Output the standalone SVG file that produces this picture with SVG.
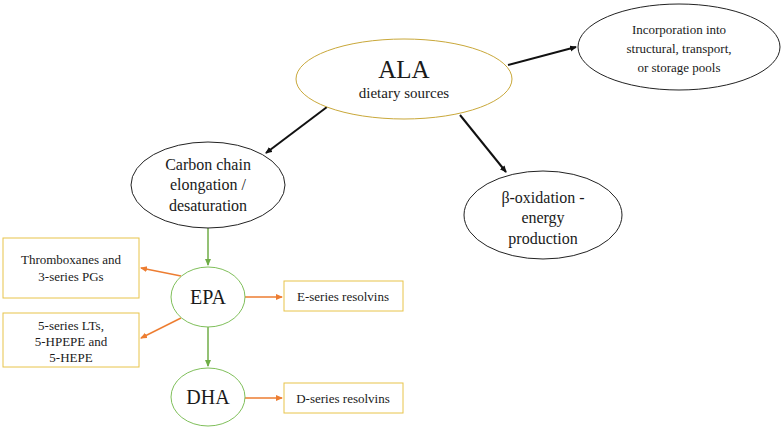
<svg xmlns="http://www.w3.org/2000/svg" width="783" height="432" viewBox="0 0 783 432">
<defs>
<style>
text{font-family:"Liberation Serif",serif;fill:#1a1a1a;text-anchor:middle}
.n{fill:#fff;stroke:#222;stroke-width:1}
.g{fill:#fff;stroke:#7fbf5a;stroke-width:1}
.b{fill:#fff;stroke:#e8c44a;stroke-width:1}
.t{font-size:16px}
.s{font-size:13px}
.k{stroke:#111;stroke-width:2;fill:none;marker-end:url(#ak)}
.gr{stroke:#70ad47;stroke-width:1.5;fill:none;marker-end:url(#ag)}
.o{stroke:#ed7d31;stroke-width:1.5;fill:none;marker-end:url(#ao)}
</style>
<marker id="ak" markerWidth="8" markerHeight="8" refX="6" refY="3" orient="auto" markerUnits="userSpaceOnUse"><path d="M0,0L7,3L0,6z" fill="#111"/></marker>
<marker id="ag" markerWidth="8" markerHeight="8" refX="6" refY="3" orient="auto" markerUnits="userSpaceOnUse"><path d="M0,0L7,3L0,6z" fill="#70ad47"/></marker>
<marker id="ao" markerWidth="8" markerHeight="8" refX="6" refY="3" orient="auto" markerUnits="userSpaceOnUse"><path d="M0,0L7,3L0,6z" fill="#ed7d31"/></marker>
</defs>
<rect width="783" height="432" fill="#fff"/>
<g id="connectors">
<line class="k" x1="508" y1="65" x2="576" y2="47"/>
<line class="k" x1="460" y1="115" x2="506" y2="172"/>
<line class="k" x1="327" y1="107" x2="266" y2="153"/>
<line class="gr" x1="208" y1="228" x2="208" y2="265"/>
<line class="gr" x1="208" y1="327" x2="208" y2="366"/>
<line class="o" x1="181" y1="276" x2="141" y2="268"/>
<line class="o" x1="181" y1="318" x2="141" y2="338"/>
<line class="o" x1="245" y1="297" x2="282" y2="297"/>
<line class="o" x1="245" y1="398" x2="282" y2="398"/>
</g>
<g id="ala"><ellipse cx="404" cy="79" rx="108" ry="40" fill="#fff" stroke="#c9a83a"/>
<text x="404" y="78" font-size="25">ALA</text><text x="404" y="98" font-size="15">dietary sources</text></g>
<g id="incorporation"><ellipse class="n" cx="679" cy="47" rx="101" ry="43"/>
<text class="s" x="679" y="34" font-size="14">Incorporation into</text><text class="s" x="679" y="53">structural, transport,</text><text class="s" x="679" y="72">or storage pools</text></g>
<g id="beta"><ellipse class="n" cx="543" cy="215" rx="79" ry="44"/>
<text class="t" x="543" y="203">β-oxidation -</text><text class="t" x="543" y="223">energy</text><text class="t" x="543" y="244">production</text></g>
<g id="carbon"><ellipse class="n" cx="208" cy="185" rx="77" ry="43"/>
<text class="t" x="208" y="170">Carbon chain</text><text class="t" x="208" y="190">elongation /</text><text class="t" x="208" y="211">desaturation</text></g>
<g id="epa"><ellipse class="g" cx="208" cy="297" rx="37" ry="30"/><text x="208" y="304" font-size="20">EPA</text></g>
<g id="dha"><ellipse class="g" cx="208" cy="397" rx="37" ry="29"/><text x="208" y="404" font-size="20">DHA</text></g>
<g id="thromboxanes"><rect class="b" x="3" y="238" width="136" height="60"/>
<text class="s" x="71" y="264">Thromboxanes and</text><text class="s" x="71" y="281">3-series PGs</text></g>
<g id="lts"><rect class="b" x="3" y="313" width="136" height="54"/>
<text class="s" x="71" y="330">5-series LTs,</text><text class="s" x="71" y="346">5-HPEPE and</text><text class="s" x="71" y="362">5-HEPE</text></g>
<g id="eseries"><rect class="b" x="284" y="281" width="119" height="30"/><text class="s" x="343" y="301">E-series resolvins</text></g>
<g id="dseries"><rect class="b" x="284" y="383" width="119" height="30"/><text class="s" x="343" y="403">D-series resolvins</text></g>
</svg>
